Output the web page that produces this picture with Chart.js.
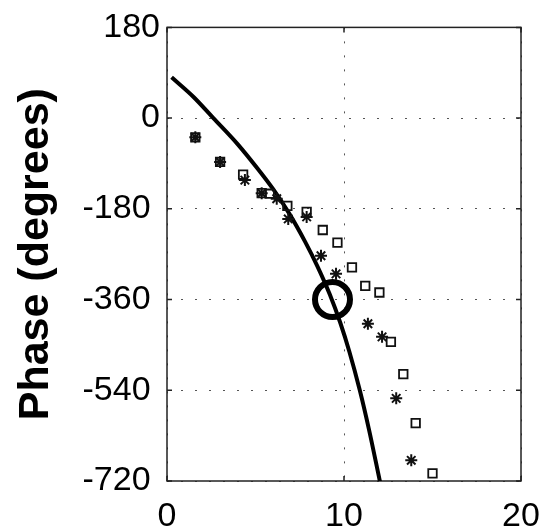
<!DOCTYPE html>
<html lang="en">
<head>
  <meta charset="UTF-8">
  <title>Phase plot</title>
  <script src="https://cdn.jsdelivr.net/npm/chart.js"></script>
  <style>
    body { margin: 0; background: #fff; }
    #chart { display: block; }
  </style>
</head>
<body>
<canvas id="chart" width="551" height="529"></canvas>
<script>
  // values
  const curveX = [0.26, 1.5, 2.62, 4.0, 5.16, 6.0, 6.9, 7.8, 8.5, 9.2, 9.8, 10.3, 10.9, 11.4, 12.03];
  const curveY = [81, 42, 0, -52, -102, -141, -189, -245, -294, -350, -407, -463, -541, -616, -721];

  const starX = [1.6, 3.0, 4.4, 5.35, 6.2, 6.85, 7.89, 8.7, 9.55, 11.35, 12.15, 12.95, 13.8];
  const starY = [-38, -87, -123, -149, -160, -200, -196, -273, -309, -408, -434, -556, -679];

  const squareX = [1.6, 3.0, 4.3, 5.35, 5.8, 6.8, 7.89, 8.8, 9.63, 10.45, 11.2, 12.0, 12.65, 13.35, 14.05, 15.0];
  const squareY = [-38, -87, -112, -149, -150, -174, -186, -222, -247, -296, -333, -346, -444, -508, -605, -705];

  const circleX = [9.35];
  const circleY = [-360];

  const xTicks = [0, 10, 20];
  const yTicks = [180, 0, -180, -360, -540, -720];

  const pts = (xs, ys) => xs.map((x, i) => ({ x: x, y: ys[i] }));
  const font = 'Liberation Sans, Arial, Helvetica, sans-serif';

  // box around the plot with MATLAB style inward ticks
  const boxPlugin = {
    id: 'box',
    beforeDatasetsDraw(chart) {
      const { ctx, chartArea: a, scales } = chart;
      ctx.save();
      ctx.strokeStyle = '#222';
      ctx.lineWidth = 1.5;
      ctx.strokeRect(a.left, a.top, a.right - a.left, a.bottom - a.top);
      ctx.beginPath();
      xTicks.forEach(v => {
        const px = scales.x.getPixelForValue(v);
        ctx.moveTo(px, a.bottom); ctx.lineTo(px, a.bottom - 5);
        ctx.moveTo(px, a.top); ctx.lineTo(px, a.top + 5);
      });
      yTicks.forEach(v => {
        const py = scales.y.getPixelForValue(v);
        ctx.moveTo(a.left, py); ctx.lineTo(a.left + 5, py);
        ctx.moveTo(a.right, py); ctx.lineTo(a.right - 5, py);
      });
      ctx.stroke();
      ctx.restore();
    }
  };

  new Chart(document.getElementById('chart'), {
    type: 'scatter',
    data: {
      datasets: [
        {
          data: pts(curveX, curveY),
          showLine: true,
          cubicInterpolationMode: 'monotone',
          borderColor: '#000',
          borderWidth: 4,
          pointRadius: 0,
          order: 3
        },
        {
          data: pts(starX, starY),
          pointStyle: 'star',
          pointRadius: 6,
          borderColor: '#111',
          borderWidth: 2,
          backgroundColor: 'transparent',
          order: 2
        },
        {
          data: pts(squareX, squareY),
          pointStyle: 'rect',
          pointRadius: 6,
          borderColor: '#111',
          borderWidth: 1.8,
          backgroundColor: 'transparent',
          order: 1
        },
        {
          data: pts(circleX, circleY),
          pointStyle: 'circle',
          pointRadius: 17.5,
          borderColor: '#000',
          borderWidth: 6,
          backgroundColor: 'transparent',
          order: 0
        }
      ]
    },
    options: {
      responsive: false,
      animation: false,
      layout: { padding: { top: 21, right: 30, left: 0, bottom: 0 } },
      plugins: { legend: { display: false }, tooltip: { enabled: false } },
      scales: {
        x: {
          type: 'linear',
          min: 0, max: 20,
          afterFit: s => { s.height = 48; s.paddingLeft = 0; s.paddingRight = 0; },
          afterBuildTicks: s => { s.ticks = xTicks.map(v => ({ value: v })); },
          ticks: { color: '#000', padding: 15, font: { family: font, size: 34 } },
          grid: { color: '#555', lineWidth: 1, drawTicks: false },
          border: { display: false, dash: [2, 12] }
        },
        y: {
          type: 'linear',
          min: -720, max: 180,
          afterFit: s => { s.width = 167; },
          afterBuildTicks: s => { s.ticks = yTicks.map(v => ({ value: v })); },
          ticks: {
            color: '#000', padding: 7, font: { family: font, size: 34 },
            callback: v => v < 0 ? v + ' ' : String(v)
          },
          grid: { color: '#555', lineWidth: 1, drawTicks: false },
          border: { display: false, dash: [2, 12] },
          title: {
            display: true,
            text: 'Phase (degrees)',
            color: '#000',
            padding: { top: 10, bottom: 0 },
            font: { family: font, size: 43, weight: 'bold' }
          }
        }
      }
    },
    plugins: [boxPlugin]
  });
</script>
</body>
</html>
